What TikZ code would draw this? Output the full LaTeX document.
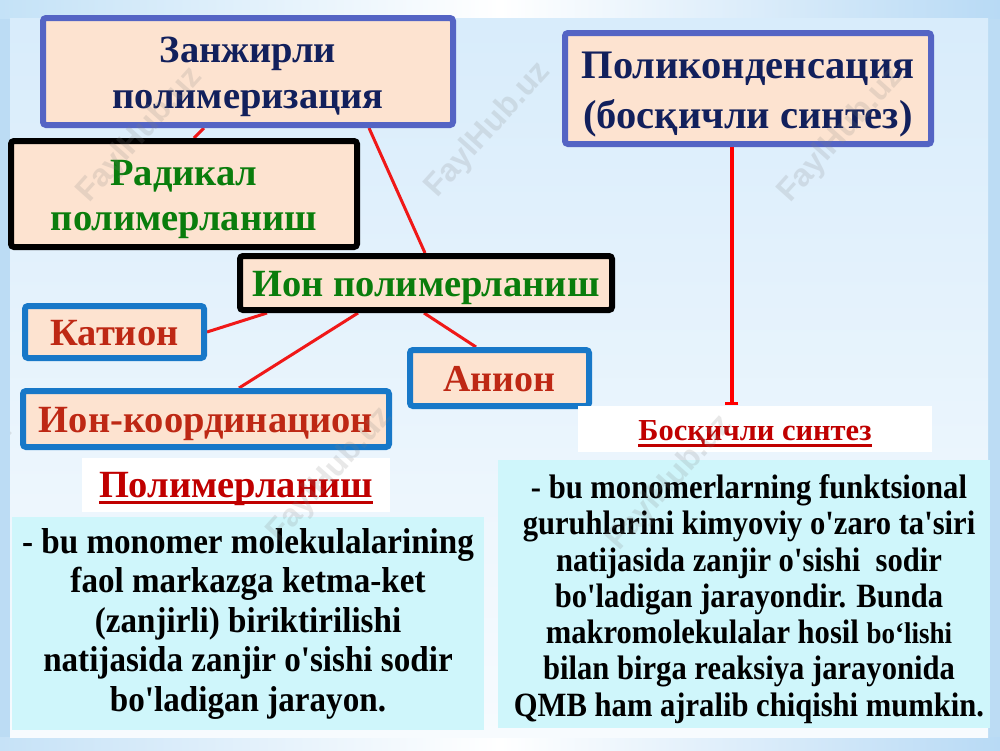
\documentclass[tikz,border=0pt]{standalone}
\usepackage{fontspec}
\setmainfont{Liberation Serif}
\newfontfamily\condL[FakeStretch=0.92]{Liberation Serif}
\newfontfamily\condR[FakeStretch=0.9]{Liberation Serif}
\newfontfamily\wmfont{Liberation Sans}
\usetikzlibrary{arrows.meta,calc}
\pgfdeclarelayer{bgl}
\pgfdeclarelayer{lines}
\pgfsetlayers{bgl,lines,main}
\definecolor{peach}{RGB}{253,227,208}
\definecolor{navy}{RGB}{18,32,92}
\definecolor{periw}{RGB}{84,100,196}
\definecolor{boxblue}{RGB}{24,120,200}
\definecolor{grn}{RGB}{10,125,12}
\definecolor{brick}{RGB}{190,40,20}
\definecolor{lblred}{RGB}{192,0,0}
\definecolor{linered}{RGB}{240,24,24}
\definecolor{cyanbox}{RGB}{207,246,251}
\definecolor{outerbg}{RGB}{188,220,244}
\newcommand\myul[1]{\setbox0=\hbox{#1}\leavevmode\rlap{\rule[-7pt]{\wd0}{3pt}}\box0}
\newcommand\topstrut[1]{\rule{0pt}{#1pt}}
\tikzset{
  fsz/.style 2 args={font=\fontsize{#1}{#2}\selectfont\bfseries},
  oneline/.style={text height=#1pt, text depth=1pt},
  basebox/.style={fill=peach, line width=6pt, rounded corners=3pt, inner sep=0pt, align=center},
  titlebox/.style={basebox, draw=periw, text=navy},
  blackbox/.style={basebox, draw=black, text=grn},
  bluebox/.style={basebox, draw=boxblue, text=brick},
  lbl/.style={fill=white, inner sep=0pt, text=lblred},
  txtbox/.style={fill=cyanbox, inner sep=0pt, align=center, text=black},
  conn/.style={draw=linered, line width=3pt},
  wm/.style={text=gray, opacity=0.18, font=\wmfont\fontsize{32}{32}\selectfont\bfseries, rotate=48}
}
\begin{document}
\begin{tikzpicture}[x=1pt,y=-1pt]
\useasboundingbox (0,0) rectangle (1000,750);
% background
\begin{pgfonlayer}{bgl}
\fill[outerbg] (0,0) rectangle (1000,750);
\shade[left color={rgb,255:red,196;green,226;blue,247}, right color={rgb,255:red,184;green,218;blue,245}, middle color=white] (0,0) rectangle (1000,18);
\shade[left color={rgb,255:red,198;green,226;blue,247}, right color={rgb,255:red,184;green,218;blue,245}, middle color=white] (0,737) rectangle (1000,750);
\shade[top color={rgb,255:red,216;green,236;blue,251}, bottom color={rgb,255:red,247;green,251;blue,254}] (10,18) rectangle (988,737);
\end{pgfonlayer}

% nodes
\node[titlebox, minimum width=410pt, minimum height=107pt, fsz={38.5}{46}] (zan) at (248,71.5)
  {\topstrut{37}Занжирли\\полимеризация};
\node[titlebox, minimum width=366pt, minimum height=111pt, fsz={40.5}{50}] (poly) at (748,88.5)
  {\topstrut{39}Поликонденсация\\(босқичли синтез)};
\node[blackbox, minimum width=346pt, minimum height=106pt, fsz={38.5}{45}] (rad) at (184,194)
  {\topstrut{36}Радикал\\полимерланиш};
\node[blackbox, minimum width=372pt, minimum height=54pt, fsz={38.5}{40}, oneline=27] (ion) at (426,283) {Ион полимерланиш};
\node[bluebox, minimum width=179pt, minimum height=52pt, fsz={38.5}{40}, oneline=28] (kat) at (114.5,332) {Катион};
\node[bluebox, minimum width=179pt, minimum height=56pt, fsz={38}{40}, oneline=28] (anion) at (499.5,378) {Анион};
\node[bluebox, minimum width=366pt, minimum height=56pt, fsz={38.5}{40}, oneline=28] (ikoord) at (206,419) {Ион-координацион};
\node[lbl, minimum width=354pt, minimum height=46pt, fsz={30.5}{32}, oneline=23] (lblB) at (755,429) {\myul{Босқичли синтез}};
\node[lbl, minimum width=308pt, minimum height=54pt, fsz={38.5}{40}, oneline=25] (lblP) at (236,485) {\myul{Полимерланиш}};
\node[txtbox, minimum width=472pt, minimum height=213pt, font=\condL\fontsize{36}{39.5}\selectfont\bfseries] (txtL) at (248,623.5)
  {- bu monomer molekulalarining\\
   faol markazga ketma-ket\\
   (zanjirli) biriktirilishi\\
   natijasida zanjir o'sishi sodir\\
   bo'ladigan jarayon.};
\node[txtbox, minimum width=492pt, minimum height=268pt, font=\condR\fontsize{34}{36.3}\selectfont\bfseries] (txtR) at (744,594)
  {\topstrut{34}\hspace*{10pt}- bu monomerlarning funktsional\\
   \hspace*{10pt}guruhlarini kimyoviy o'zaro ta'siri\\
   \hspace*{10pt}natijasida zanjir o'sishi\ \ sodir\\
   \hspace*{10pt}bo'ladigan jarayondir. Bunda\\
   \hspace*{10pt}makromolekulalar hosil {\fontsize{30}{36.3}\selectfont bo‘lishi}\\
   \hspace*{10pt}bilan birga reaksiya jarayonida\\
   \hspace*{10pt}QMB ham ajralib chiqishi mumkin.};

% connectors
\begin{pgfonlayer}{lines}
\draw[conn] ($(zan.south west)+(164,0)$) -- ($(rad.north west)+(186,0)$);
\draw[conn] ($(zan.south west)+(329,0)$) -- ($(ion.north west)+(188,0)$);
\draw[conn] ($(ion.south west)+(30,0)$) -- (kat.east);
\draw[conn] ($(ion.south west)+(121,0)$) -- ($(ikoord.north west)+(219,0)$);
\draw[conn] ($(ion.south west)+(187,0)$) -- ($(anion.north west)+(69,0)$);
\end{pgfonlayer}
\coordinate (bend) at ($(lblB.north west)+(154,-1)$);
\draw[draw=red, line width=4pt, -{Bar[width=13pt,line width=3pt]}] (poly.south -| bend) -- (bend);

% watermarks
\begin{scope}
\clip (10,18) rectangle (988,737);
\node[wm] (w1) at (140,135) {FaylHub.uz};
\node[wm] (w2) at (488,130) {FaylHub.uz};
\node[wm] (w3) at (841,135) {FaylHub.uz};
\node[wm] (w4) at (-50,490) {FaylHub.uz};
\node[wm] (w5) at (330,475) {FaylHub.uz};
\node[wm] (w6) at (670,483) {FaylHub.uz};
\end{scope}
\end{tikzpicture}
\end{document}
